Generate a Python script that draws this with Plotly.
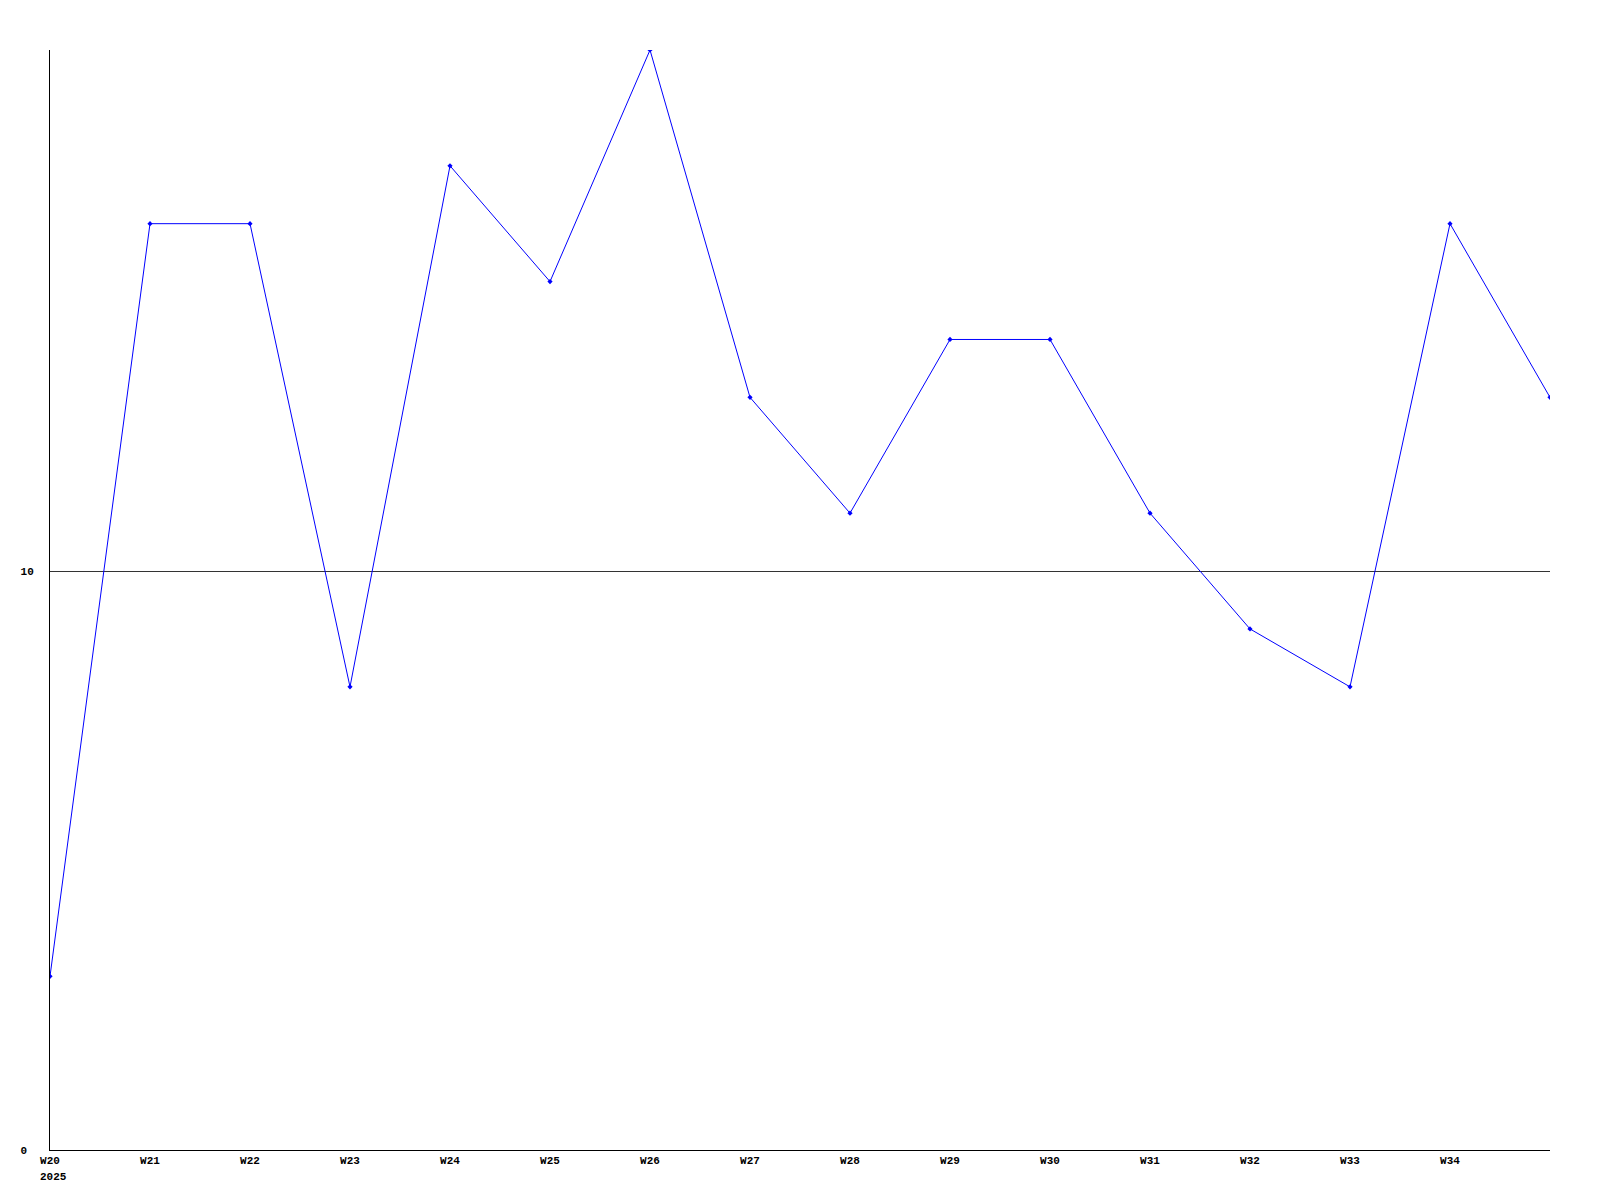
import plotly.graph_objects as go

weeks = ["W20", "W21", "W22", "W23", "W24", "W25", "W26", "W27", "W28",
         "W29", "W30", "W31", "W32", "W33", "W34", "W35"]
values = [3, 16, 16, 8, 17, 15, 19, 13, 11, 14, 14, 11, 9, 8, 16, 13]
tick_labels = ["W20", "W21", "W22", "W23", "W24", "W25", "W26", "W27",
               "W28", "W29", "W30", "W31", "W32", "W33", "W34"]
year_label = "2025"
y_ticks = [0, 10]

x = list(range(len(weeks)))

fig = go.Figure()
fig.add_trace(go.Scatter(
    x=x, y=values, mode="lines+markers",
    line=dict(color="#0000ff", width=1),
    marker=dict(color="#0000ff", size=4, symbol="diamond"),
    hovertext=weeks, showlegend=False,
))

font = dict(family="Liberation Mono, DejaVu Sans Mono, monospace", size=11, color="#000000")

# y labels are left-aligned in the reference: pad shorter ones with non-breaking spaces
max_len = max(len(str(v)) for v in y_ticks)
y_text = ["<b>%s%s</b>" % (v, "&nbsp;" * (max_len - len(str(v)))) for v in y_ticks]

fig.update_layout(
    width=1600, height=1200,
    margin=dict(l=50, r=50, t=50, b=50),
    paper_bgcolor="white", plot_bgcolor="white",
    font=font,
    showlegend=False,
)
fig.update_xaxes(
    range=[0, 15], tickmode="array", tickvals=list(range(len(tick_labels))),
    ticktext=["<b>%s</b>" % t for t in tick_labels],
    showgrid=False, zeroline=False, showline=True, linecolor="#000000", linewidth=1,
    ticks="", tickfont=font,
)
fig.update_yaxes(
    range=[0, 19], tickmode="array", tickvals=y_ticks,
    ticktext=y_text,
    showgrid=True, gridcolor="#333333", gridwidth=1,
    zeroline=False, showline=True, linecolor="#000000", linewidth=1,
    ticks="", tickfont=font, ticklabelstandoff=13,
)
fig.add_annotation(
    x=0, xref="x", y=0, yref="paper", text="<b>%s</b>" % year_label,
    showarrow=False, xanchor="left", yanchor="top", xshift=-10, yshift=-21,
    borderpad=0, borderwidth=0, font=font,
)

fig.write_html("out.html", config={"displayModeBar": False},
               post_script="document.body.style.margin='0';document.body.style.padding='0';")
